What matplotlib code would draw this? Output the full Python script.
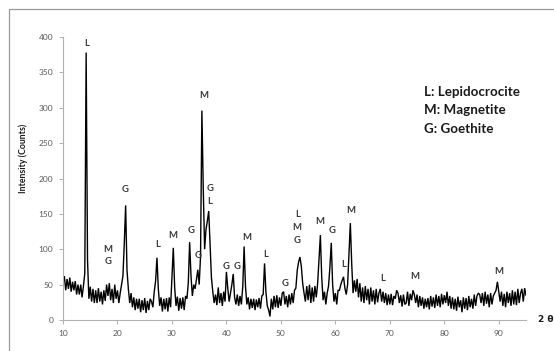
import numpy as np
import matplotlib
matplotlib.use("Agg")
import matplotlib.pyplot as plt
from matplotlib.patches import Rectangle

# ---- data: XRD pattern, 2-theta from 10 to 95 in 0.25 degree steps ----
two_theta_start = 10.0
two_theta_step = 0.25
intensity = [
    52, 62, 42, 58,   44, 60, 40, 54,   42, 55, 36, 50,   36, 50, 32, 48,   66, 378, 85, 30,     # 10-14
    47, 26, 44, 24,   42, 24, 45, 26,   40, 22, 42, 27,   50, 34, 52, 28,   44, 24, 50, 30,      # 15-19
    42, 24, 38, 50,   62, 108, 162, 70, 44, 24, 38, 18,   32, 14, 30, 16,   30, 11, 28, 14,      # 20-24
    31, 10, 27, 14,   30, 26, 18, 40,   55, 88, 44, 20,   32, 12, 30, 15,   31, 12, 32, 18,      # 25-29
    60, 102, 46, 20,  33, 13, 31, 16,   32, 14, 34, 30,   52, 110, 62, 34,  50, 44, 58, 71,      # 30-34
    50, 90, 296, 185, 100, 128, 140, 154, 105, 60, 40, 24, 36, 21, 46, 24, 38, 20, 40, 26,       # 35-39
    68, 45, 26, 38,   50, 65, 32, 22,   36, 20, 34, 22,   47, 104, 48, 22,  32, 15, 30, 17,      # 40-44
    30, 14, 29, 18,   31, 16, 34, 36,   80, 40, 20, 14,   5, 30, 15, 34,    18, 35, 17, 32,      # 45-49
    20, 38, 40, 22,   34, 18, 36, 22,   38, 24, 42, 45,   70, 82, 89, 76,   52, 38, 26, 48,      # 50-54
    28, 50, 24, 46,   26, 48, 32, 52,   85, 120, 60, 28,  40, 22, 38, 48,   75, 109, 50, 26,     # 55-59
    38, 22, 42, 42,   50, 56, 61, 45,   36, 50, 95, 137,  80, 38, 56, 40,   58, 32, 52, 26,      # 60-64
    46, 24, 48, 28,   44, 22, 46, 26,   42, 22, 44, 25,   38, 44, 26, 40,   24, 38, 21, 36,      # 65-69
    22, 37, 21, 34,   30, 42, 38, 24,   35, 19, 36, 22,   24, 40, 20, 37,   28, 42, 36, 24,      # 70-74
    36, 18, 34, 20,   32, 16, 30, 18,   31, 15, 34, 19,   32, 17, 36, 20,   34, 18, 37, 22,      # 75-79
    35, 24, 40, 20,   34, 16, 32, 15,   30, 13, 33, 18,   28, 11, 32, 16,   31, 14, 34, 18,      # 80-84
    30, 16, 36, 20,   34, 38, 36, 24,   38, 20, 40, 23,   36, 18, 38, 22,   34, 38, 42, 54,      # 85-89
    40, 26, 40, 20,   37, 18, 40, 24,   38, 20, 42, 22,   40, 21, 44, 24,   38, 44, 26, 45,      # 90-94
    35,                                                                                           # 95
]
two_theta = two_theta_start + two_theta_step * np.arange(len(intensity))

x_ticks = [10, 20, 30, 40, 50, 60, 70, 80, 90]
y_ticks = [0, 50, 100, 150, 200, 250, 300, 350, 400]

# peak labels: (2theta, intensity, phase letters)
peak_labels = [
    (14.35, 391, "L"),
    (18.2, 100, "M"), (18.2, 82, "G"),
    (21.4, 185, "G"),
    (27.3, 107, "L"),
    (30.2, 119, "M"),
    (33.5, 127, "G"),
    (34.8, 91, "G"),
    (35.75, 318, "M"),
    (37.05, 186, "G"), (36.85, 167, "L"),
    (40.0, 76, "G"), (42.0, 76, "G"),
    (43.7, 117, "M"),
    (47.2, 93, "L"),
    (50.7, 52, "G"),
    (53.0, 149, "L"), (53.0, 131, "M"), (53.0, 112, "G"),
    (57.2, 139, "M"),
    (59.4, 126, "G"),
    (61.5, 79, "L"),
    (62.9, 155, "M"),
    (68.6, 59, "L"),
    (74.5, 62, "M"),
    (90.05, 69, "M"),
]

legend_lines = ["L: Lepidocrocite", "M: Magnetite", "G: Goethite"]

# ---- figure ----
plt.rcParams['font.family'] = ['Lato', 'DejaVu Sans']
W, H = 554, 351
fig = plt.figure(figsize=(W / 100, H / 100), dpi=100)
fig.patch.set_facecolor('white')

# chart border (Excel style)
fig.patches.append(Rectangle((9 / W, -0.1), 1.2, 1.1 - 9 / H, transform=fig.transFigure,
                             fill=False, edgecolor='#9a9a9a', linewidth=0.9))

ax = fig.add_axes([63 / W, (H - 320) / H, (526 - 63) / W, (320 - 37) / H])
ax.plot(two_theta, intensity, color='black', linewidth=1.0, solid_joinstyle='miter')
ax.set_xlim(10, 95)
ax.set_ylim(0, 400)
ax.set_xticks(x_ticks)
ax.set_yticks(y_ticks)
for s in ['top', 'right']:
    ax.spines[s].set_visible(False)
for s in ['left', 'bottom']:
    ax.spines[s].set_color('#b0b0b0')
    ax.spines[s].set_linewidth(0.8)
ax.tick_params(axis='both', direction='out', length=3, width=0.7, color='#b0b0b0',
               labelsize=6, labelcolor='#595959', pad=4)
ax.patch.set_alpha(0)

fig.text(23 / W, 1 - 158 / H, "Intensity (Counts)", rotation=90, ha='center', va='center',
         fontsize=6.3, fontweight='bold', color='#1a1a1a')

for x, y, t in peak_labels:
    ax.text(x, y, t, ha='center', va='center', fontsize=6.8, fontweight='bold', color='#3a3a3a')

fig.text(546 / W, (H - 320) / H, "2 θ", ha='center', va='center', fontsize=6.5,
         fontweight='bold', color='#1a1a1a', family=['DejaVu Sans'])

for i, line in enumerate(legend_lines):
    fig.text(424 / W, 1 - (91.7 + 18.5 * i) / H, line, ha='left', va='center',
             fontsize=9.6, fontweight='bold', color='#1a1a1a')

fig.savefig("out.png", dpi=100, facecolor='white')
